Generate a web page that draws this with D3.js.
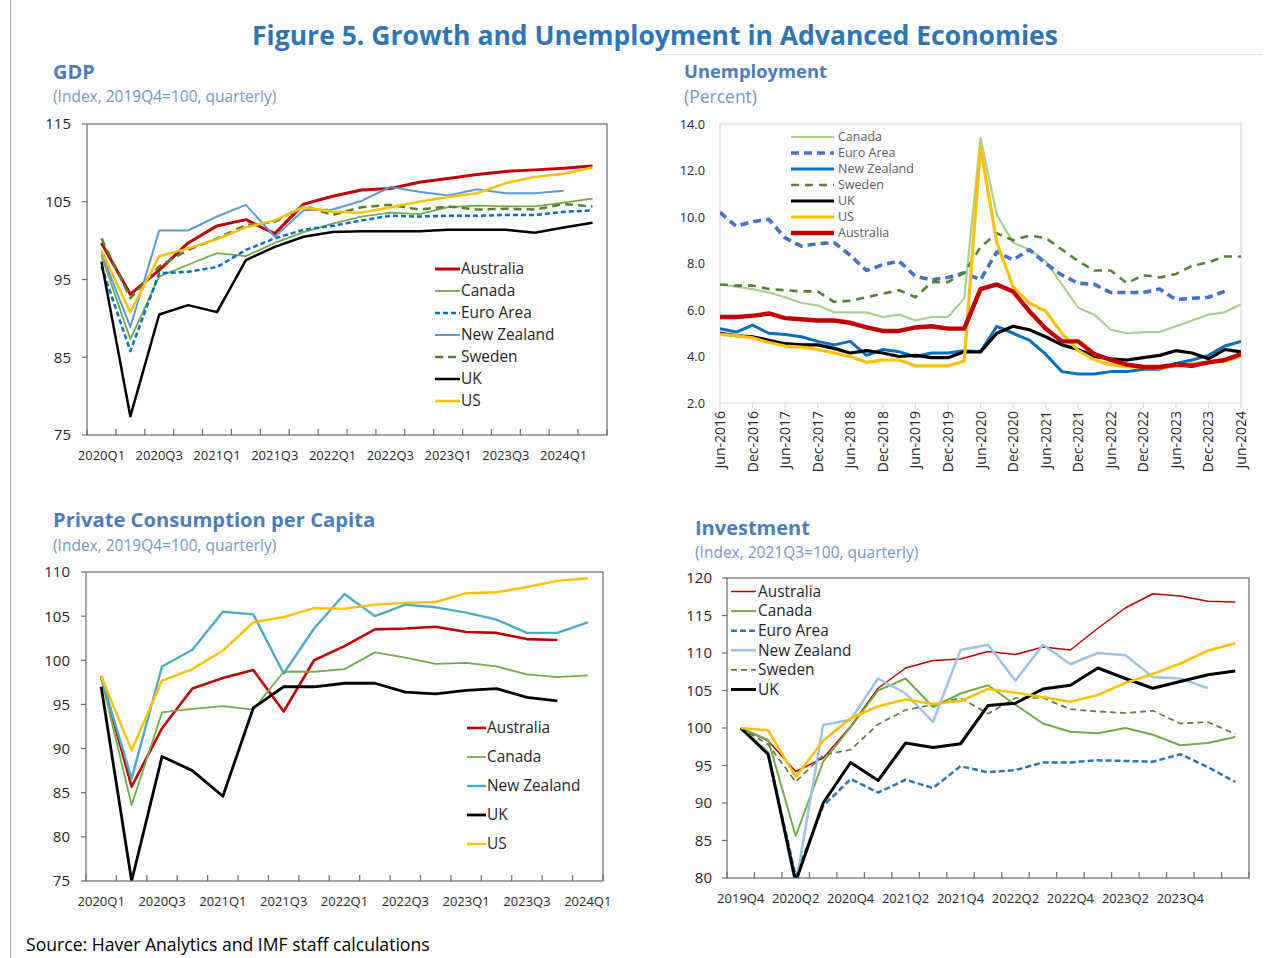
<!DOCTYPE html>
<html>
<head>
<meta charset="utf-8">
<script src="https://cdn.jsdelivr.net/npm/d3@7"></script>
<style>
  html, body { margin: 0; padding: 0; background: #ffffff; }
  svg { display: block; }
</style>
</head>
<body>
<svg id="fig" width="1287" height="958"></svg>
<script>
// ---------------- GDP (Index, 2019Q4=100) ----------------
const gdpQuarters = ["2020Q1","2020Q2","2020Q3","2020Q4","2021Q1","2021Q2","2021Q3","2021Q4","2022Q1",
  "2022Q2","2022Q3","2022Q4","2023Q1","2023Q2","2023Q3","2023Q4","2024Q1","2024Q2"];
const gdpTickLabels = ["2020Q1","2020Q3","2021Q1","2021Q3","2022Q1","2022Q3","2023Q1","2023Q3","2024Q1"];
const gdpYTicks = [75, 85, 95, 105, 115];
const gdpAustralia = [99.7, 93.1, 96.2, 99.7, 101.9, 102.7, 100.9, 104.7, 105.7, 106.5, 106.7, 107.5, 108.0, 108.5, 108.9, 109.1, 109.3, 109.6];
const gdpCanada    = [98.1, 87.3, 95.4, 96.9, 98.4, 98.0, 99.7, 101.1, 102.2, 103.1, 103.6, 103.4, 104.3, 104.5, 104.4, 104.4, 104.9, 105.4];
const gdpEuroArea  = [96.7, 85.8, 95.8, 96.0, 96.6, 98.8, 100.3, 101.4, 101.9, 102.6, 103.2, 103.1, 103.2, 103.2, 103.3, 103.3, 103.7, 103.9];
const gdpNewZealand= [98.4, 88.9, 101.3, 101.3, 103.1, 104.6, 100.5, 103.9, 104.0, 105.1, 106.9, 106.3, 105.8, 106.6, 106.1, 106.1, 106.4];
const gdpSweden    = [100.3, 92.6, 96.7, 98.8, 100.3, 102.0, 102.4, 104.5, 103.3, 104.3, 104.6, 104.0, 104.4, 104.0, 104.1, 104.0, 104.7, 104.4];
const gdpUK        = [97.3, 77.4, 90.5, 91.7, 90.8, 97.5, 99.2, 100.5, 101.1, 101.2, 101.2, 101.2, 101.4, 101.4, 101.4, 101.0, 101.7, 102.3];
const gdpUS        = [98.7, 90.8, 98.0, 99.0, 100.2, 101.7, 102.6, 104.3, 103.7, 103.6, 104.3, 105.0, 105.6, 106.1, 107.4, 108.2, 108.6, 109.4];

// ---------------- Unemployment (percent) ----------------
const unempPeriods = ["Jun-2016","Sep-2016","Dec-2016","Mar-2017","Jun-2017","Sep-2017","Dec-2017","Mar-2018",
  "Jun-2018","Sep-2018","Dec-2018","Mar-2019","Jun-2019","Sep-2019","Dec-2019","Mar-2020","Jun-2020",
  "Sep-2020","Dec-2020","Mar-2021","Jun-2021","Sep-2021","Dec-2021","Mar-2022","Jun-2022","Sep-2022",
  "Dec-2022","Mar-2023","Jun-2023","Sep-2023","Dec-2023","Mar-2024","Jun-2024"];
const unempTickLabels = ["Jun-2016","Dec-2016","Jun-2017","Dec-2017","Jun-2018","Dec-2018","Jun-2019","Dec-2019",
  "Jun-2020","Dec-2020","Jun-2021","Dec-2021","Jun-2022","Dec-2022","Jun-2023","Dec-2023","Jun-2024"];
const unempYTicks = [2, 4, 6, 8, 10, 12, 14];
const unempCanada    = [7.1, 7.0, 6.9, 6.75, 6.55, 6.3, 6.2, 5.9, 5.9, 5.9, 5.7, 5.8, 5.55, 5.7, 5.7, 6.5, 13.4, 10.1, 8.9, 8.6, 8.1, 7.1, 6.1, 5.8, 5.15, 5.0, 5.05, 5.05, 5.3, 5.55, 5.8, 5.9, 6.25];
const unempEuroArea  = [10.2, 9.6, 9.8, 9.9, 9.1, 8.75, 8.85, 8.9, 8.35, 7.7, 7.95, 8.1, 7.45, 7.3, 7.4, 7.6, 7.3, 8.5, 8.15, 8.6, 8.0, 7.5, 7.15, 7.1, 6.75, 6.75, 6.75, 6.9, 6.45, 6.5, 6.55, 6.8];
const unempNewZealand= [5.2, 5.05, 5.35, 5.0, 4.95, 4.85, 4.65, 4.5, 4.65, 4.05, 4.3, 4.2, 4.0, 4.15, 4.15, 4.25, 4.2, 5.3, 5.0, 4.7, 4.1, 3.35, 3.25, 3.25, 3.35, 3.35, 3.45, 3.45, 3.7, 3.85, 4.05, 4.45, 4.65];
const unempSweden    = [7.1, 7.05, 7.05, 6.9, 6.85, 6.8, 6.8, 6.35, 6.4, 6.55, 6.7, 6.85, 6.55, 7.2, 7.2, 7.6, 8.7, 9.3, 9.0, 9.2, 9.1, 8.6, 8.1, 7.7, 7.7, 7.15, 7.5, 7.4, 7.55, 7.9, 8.05, 8.3, 8.3];
const unempUK        = [5.0, 4.9, 4.85, 4.7, 4.55, 4.5, 4.5, 4.35, 4.15, 4.25, 4.15, 4.0, 4.05, 3.95, 3.95, 4.2, 4.2, 5.0, 5.3, 5.15, 4.85, 4.5, 4.3, 4.0, 3.9, 3.85, 3.95, 4.05, 4.25, 4.15, 3.9, 4.3, 4.2];
const unempUS        = [4.95, 4.9, 4.8, 4.6, 4.45, 4.4, 4.3, 4.15, 4.0, 3.75, 3.85, 3.85, 3.6, 3.6, 3.6, 3.8, 13.0, 8.9, 7.0, 6.3, 5.95, 5.0, 4.25, 3.85, 3.65, 3.55, 3.55, 3.5, 3.6, 3.7, 3.75, 3.8, 4.0];
const unempAustralia = [5.7, 5.7, 5.75, 5.85, 5.65, 5.6, 5.55, 5.55, 5.45, 5.25, 5.1, 5.1, 5.25, 5.3, 5.2, 5.2, 6.9, 7.1, 6.8, 5.95, 5.2, 4.65, 4.65, 4.1, 3.85, 3.65, 3.55, 3.55, 3.65, 3.6, 3.75, 3.85, 4.1];

// ---------------- Private consumption per capita (Index, 2019Q4=100) ----------------
const pcQuarters = ["2020Q1","2020Q2","2020Q3","2020Q4","2021Q1","2021Q2","2021Q3","2021Q4","2022Q1",
  "2022Q2","2022Q3","2022Q4","2023Q1","2023Q2","2023Q3","2023Q4","2024Q1"];
const pcTickLabels = ["2020Q1","2020Q3","2021Q1","2021Q3","2022Q1","2022Q3","2023Q1","2023Q3","2024Q1"];
const pcYTicks = [75, 80, 85, 90, 95, 100, 105, 110];
const pcAustralia  = [98.2, 85.7, 92.3, 96.8, 98.0, 98.9, 94.2, 100.0, 101.6, 103.5, 103.6, 103.8, 103.2, 103.1, 102.4, 102.3];
const pcCanada     = [98.0, 83.6, 94.1, 94.5, 94.8, 94.4, 98.7, 98.7, 99.0, 100.9, 100.3, 99.6, 99.7, 99.3, 98.4, 98.1, 98.3];
const pcNewZealand = [98.1, 86.6, 99.3, 101.2, 105.5, 105.2, 98.5, 103.6, 107.5, 105.0, 106.3, 106.0, 105.4, 104.6, 103.1, 103.1, 104.3];
const pcUK         = [97.0, 75.0, 89.1, 87.5, 84.6, 94.6, 97.0, 97.0, 97.4, 97.4, 96.4, 96.2, 96.6, 96.8, 95.8, 95.4];
const pcUS         = [98.2, 89.8, 97.7, 99.0, 101.1, 104.3, 104.9, 105.9, 105.85, 106.3, 106.5, 106.6, 107.6, 107.7, 108.3, 109.0, 109.3];

// ---------------- Investment (Index) ----------------
const invQuarters = ["2019Q4","2020Q1","2020Q2","2020Q3","2020Q4","2021Q1","2021Q2","2021Q3","2021Q4","2022Q1",
  "2022Q2","2022Q3","2022Q4","2023Q1","2023Q2","2023Q3","2023Q4","2024Q1","2024Q2"];
const invTickLabels = ["2019Q4","2020Q2","2020Q4","2021Q2","2021Q4","2022Q2","2022Q4","2023Q2","2023Q4"];
const invYTicks = [80, 85, 90, 95, 100, 105, 110, 115, 120];
const invAustralia  = [100, 98.3, 94.2, 96.0, 100.2, 105.3, 108.0, 109.0, 109.2, 110.2, 109.8, 110.8, 110.4, 113.3, 116.0, 117.9, 117.6, 116.9, 116.8];
const invCanada     = [100, 98.4, 85.6, 95.5, 100.1, 105.0, 106.6, 102.8, 104.6, 105.7, 103.1, 100.6, 99.5, 99.3, 100.0, 99.1, 97.7, 98.0, 98.8];
const invEuroArea   = [100, 96.5, 80.2, 89.6, 93.2, 91.4, 93.1, 92.0, 94.9, 94.1, 94.4, 95.4, 95.4, 95.7, 95.6, 95.5, 96.5, 94.8, 92.8];
const invNewZealand = [100, 96.8, 79.0, 100.4, 101.1, 106.6, 104.6, 100.8, 110.4, 111.1, 106.3, 111.1, 108.5, 110.0, 109.7, 106.8, 106.6, 105.3];
const invSweden     = [100, 97.8, 92.8, 96.4, 97.1, 100.5, 102.4, 103.1, 104.0, 101.9, 104.0, 104.0, 102.5, 102.2, 102.0, 102.3, 100.6, 100.8, 99.2];
const invUK         = [100, 96.5, 79.5, 90.0, 95.4, 93.0, 98.0, 97.4, 97.9, 103.0, 103.3, 105.2, 105.7, 108.0, 106.6, 105.3, 106.2, 107.1, 107.6];
const invUS         = [100, 99.7, 93.5, 98.3, 101.3, 102.9, 103.8, 103.2, 103.6, 105.2, 104.7, 104.1, 103.5, 104.4, 106.0, 107.2, 108.6, 110.3, 111.3];

// ---------------- styling ----------------
const FONT = "'Open Sans', 'Noto Sans', 'DejaVu Sans', sans-serif";
const TITLE_BLUE = "#2f75b5";
const PANEL_BLUE = "#4a7ebb";
const SUB_BLUE = "#7696c2";
const AXIS_DARK = "#6b6b6b";
const AXIS_LIGHT = "#d9d9d9";
const TEXT = "#262626";

const svg = d3.select("#fig").style("font-family", FONT);
const defs = svg.append("defs");

// Fit a text element to a given width by adjusting its font size
function fitWidth(sel, width) {
  const len = sel.node().getComputedTextLength();
  const fs = parseFloat(sel.attr("font-size"));
  sel.attr("font-size", (fs * width / len).toFixed(2));
}

function clip(id, x, y, w, h) {
  defs.append("clipPath").attr("id", id).append("rect")
    .attr("x", x).attr("y", y).attr("width", w).attr("height", h);
  return `url(#${id})`;
}

function panelHeading(x, yTitle, title, ySub, sub, titleSize, subSize) {
  svg.append("text").attr("x", x).attr("y", yTitle).attr("font-size", titleSize)
    .attr("font-weight", 700).attr("fill", PANEL_BLUE).text(title);
  svg.append("text").attr("x", x).attr("y", ySub).attr("font-size", subSize)
    .attr("fill", SUB_BLUE).text(sub);
}

function drawSeries(g, series, xPos, y) {
  series.forEach(s => {
    const pts = s.values.map((v, i) => ({ c: s.cats[i], v }));
    const line = d3.line().x(d => xPos(d.c)).y(d => y(d.v));
    g.append("path")
      .attr("d", line(pts))
      .attr("fill", "none")
      .attr("stroke", s.color)
      .attr("stroke-width", s.width)
      .attr("stroke-dasharray", s.dash || null)
      .attr("stroke-linejoin", "round");
  });
}

function drawLegend(items, x1, x2, tx, y0, dy, fontSize, color) {
  const g = svg.append("g");
  items.forEach((s, i) => {
    const yy = y0 + i * dy;
    g.append("line").attr("x1", x1).attr("x2", x2).attr("y1", yy).attr("y2", yy)
      .attr("stroke", s.color).attr("stroke-width", s.legendWidth || s.width)
      .attr("stroke-dasharray", s.legendDash || s.dash || null);
    g.append("text").attr("x", tx).attr("y", yy).attr("dy", "0.35em")
      .attr("font-size", fontSize).attr("fill", color).text(s.name);
  });
}

// Category (band) panel: frame, left ticks, inside bottom ticks, labels
function bandPanel(cfg) {
  const { left, right, top, bottom, cats, tickLabels, yDomain, yTicks, series, clipId,
          yLabelX, yLabelSize, xLabelY, xLabelSize } = cfg;
  const x = d3.scaleBand().domain(cats).range([left, right]);
  const y = d3.scaleLinear().domain(yDomain).range([bottom, top]);
  const xPos = c => x(c) + x.bandwidth() / 2;
  const g = svg.append("g");

  // series clipped to the plot area
  const lines = g.append("g").attr("clip-path", clip(clipId, left, top, right - left, bottom - top));
  drawSeries(lines, series, xPos, y);

  // frame
  g.append("rect").attr("x", left).attr("y", top).attr("width", right - left).attr("height", bottom - top)
    .attr("fill", "none").attr("stroke", AXIS_DARK).attr("stroke-width", 1.2);

  // category boundary ticks, pointing into the plot
  d3.range(cats.length + 1).forEach(i => {
    const xx = left + i * x.bandwidth();
    g.append("line").attr("x1", xx).attr("x2", xx).attr("y1", bottom).attr("y2", bottom - 6)
      .attr("stroke", AXIS_DARK).attr("stroke-width", 1.2);
  });

  // y ticks and labels
  yTicks.forEach(t => {
    g.append("line").attr("x1", left - 5).attr("x2", left).attr("y1", y(t)).attr("y2", y(t))
      .attr("stroke", AXIS_DARK).attr("stroke-width", 1.2);
    g.append("text").attr("x", yLabelX).attr("y", y(t)).attr("dy", "0.36em")
      .attr("text-anchor", "end").attr("font-size", yLabelSize).attr("fill", TEXT).text(t);
  });

  // x labels
  tickLabels.forEach(c => {
    g.append("text").attr("x", xPos(c)).attr("y", xLabelY).attr("text-anchor", "middle")
      .attr("font-size", xLabelSize).attr("fill", TEXT).text(c);
  });
  return { x, y };
}

// ---------------- figure frame and title ----------------
svg.append("line").attr("x1", 10.5).attr("x2", 10.5).attr("y1", 0).attr("y2", 958)
  .attr("stroke", "#a6a6a6").attr("stroke-width", 1);
svg.append("line").attr("x1", 655).attr("x2", 1262).attr("y1", 54.5).attr("y2", 54.5)
  .attr("stroke", "#e3e3e3").attr("stroke-width", 1);

const mainTitle = svg.append("text").attr("x", 655).attr("y", 45).attr("text-anchor", "middle")
  .attr("font-size", 25).attr("font-weight", 700).attr("fill", TITLE_BLUE)
  .text("Figure 5. Growth and Unemployment in Advanced Economies");
fitWidth(mainTitle, 806);

svg.append("text").attr("x", 26).attr("y", 951).attr("font-size", 17.6).attr("fill", "#000")
  .text("Source: Haver Analytics and IMF staff calculations");

// ---------------- GDP ----------------
panelHeading(53, 79, "GDP", 102, "(Index, 2019Q4=100, quarterly)", 20, 15.5);
const gdpSeries = [
  { name: "Australia",   values: gdpAustralia,  color: "#c00000", width: 3 },
  { name: "Canada",      values: gdpCanada,     color: "#70ad47", width: 1.8 },
  { name: "Euro Area",   values: gdpEuroArea,   color: "#0070c0", width: 2.5, dash: "5,3" },
  { name: "New Zealand", values: gdpNewZealand, color: "#5b9bd5", width: 2 },
  { name: "Sweden",      values: gdpSweden,     color: "#548235", width: 2.5, dash: "8,5" },
  { name: "UK",          values: gdpUK,         color: "#000000", width: 2.5 },
  { name: "US",          values: gdpUS,         color: "#ffc000", width: 2.5 }
].map(s => ({ ...s, cats: gdpQuarters }));
bandPanel({ left: 87, right: 607, top: 124, bottom: 435, cats: gdpQuarters, tickLabels: gdpTickLabels,
  yDomain: [75, 115], yTicks: gdpYTicks, series: gdpSeries, clipId: "clip-gdp",
  yLabelX: 71, yLabelSize: 15, xLabelY: 460, xLabelSize: 13 });
drawLegend(gdpSeries, 435, 460, 461, 269, 22, 15.4, TEXT);

// ---------------- Unemployment ----------------
panelHeading(684, 78, "Unemployment", 103, "(Percent)", 18.4, 17.5);
{
  const left = 720, right = 1241, top = 124, bottom = 403;
  const x = d3.scalePoint().domain(unempPeriods).range([left, right]);
  const y = d3.scaleLinear().domain([2, 14]).range([bottom, top]);
  const series = [
    { name: "Canada",      values: unempCanada,     color: "#a9d18e", width: 2.2 },
    { name: "Euro Area",   values: unempEuroArea,   color: "#4472c4", width: 3.6, dash: "8,5" },
    { name: "New Zealand", values: unempNewZealand, color: "#0070c0", width: 3 },
    { name: "Sweden",      values: unempSweden,     color: "#548235", width: 2.6, dash: "8,6" },
    { name: "UK",          values: unempUK,         color: "#000000", width: 3.2 },
    { name: "US",          values: unempUS,         color: "#ffc000", width: 3.2 },
    { name: "Australia",   values: unempAustralia,  color: "#c00000", width: 4.4 }
  ].map(s => ({ ...s, cats: unempPeriods }));
  const g = svg.append("g");
  g.append("rect").attr("x", left).attr("y", top).attr("width", right - left).attr("height", bottom - top)
    .attr("fill", "none").attr("stroke", AXIS_LIGHT).attr("stroke-width", 1.2);
  const lines = g.append("g").attr("clip-path", clip("clip-unemp", left, top, right - left, bottom - top));
  drawSeries(lines, series, x, y);

  unempYTicks.forEach(t => {
    g.append("text").attr("x", 705).attr("y", y(t)).attr("dy", "0.36em").attr("text-anchor", "end")
      .attr("font-size", 12.8).attr("fill", TEXT).text(d3.format(".1f")(t));
  });
  unempTickLabels.forEach(c => {
    g.append("line").attr("x1", x(c)).attr("x2", x(c)).attr("y1", bottom).attr("y2", bottom + 5)
      .attr("stroke", AXIS_LIGHT).attr("stroke-width", 1.2);
    g.append("text").attr("transform", `translate(${x(c) + 5},${bottom + 8}) rotate(-90)`)
      .attr("text-anchor", "end").attr("font-size", 14).attr("fill", TEXT).text(c);
  });
  drawLegend(series, 791, 834, 838, 137, 16, 12.5, "#595959");
}

// ---------------- Private consumption per capita ----------------
panelHeading(53, 527, "Private Consumption per Capita", 551, "(Index, 2019Q4=100, quarterly)", 20.2, 15.5);
const pcSeries = [
  { name: "Australia",   values: pcAustralia,  color: "#c00000", width: 2.6 },
  { name: "Canada",      values: pcCanada,     color: "#70ad47", width: 1.8 },
  { name: "New Zealand", values: pcNewZealand, color: "#4bacc6", width: 2.4 },
  { name: "UK",          values: pcUK,         color: "#000000", width: 2.8 },
  { name: "US",          values: pcUS,         color: "#ffc000", width: 2.4 }
].map(s => ({ ...s, cats: pcQuarters }));
bandPanel({ left: 86, right: 603, top: 572, bottom: 881, cats: pcQuarters, tickLabels: pcTickLabels,
  yDomain: [75, 110], yTicks: pcYTicks, series: pcSeries, clipId: "clip-pc",
  yLabelX: 70, yLabelSize: 15, xLabelY: 906, xLabelSize: 13 });
drawLegend(pcSeries, 467, 486, 487, 728, 29, 15.4, TEXT);

// ---------------- Investment ----------------
panelHeading(695, 535, "Investment", 558, "(Index, 2021Q3=100, quarterly)", 20, 15.5);
const invSeries = [
  { name: "Australia",   values: invAustralia,  color: "#c00000", width: 1.5 },
  { name: "Canada",      values: invCanada,     color: "#70ad47", width: 2 },
  { name: "Euro Area",   values: invEuroArea,   color: "#2e75b6", width: 2.5, dash: "6,3" },
  { name: "New Zealand", values: invNewZealand, color: "#9dc3e6", width: 2.5 },
  { name: "Sweden",      values: invSweden,     color: "#548235", width: 1.7, dash: "6,4" },
  { name: "UK",          values: invUK,         color: "#000000", width: 3 },
  { name: "US",          values: invUS,         color: "#ffc000", width: 2.5 }
].map(s => ({ ...s, cats: invQuarters }));
bandPanel({ left: 727, right: 1249, top: 578, bottom: 878, cats: invQuarters, tickLabels: invTickLabels,
  yDomain: [80, 120], yTicks: invYTicks, series: invSeries, clipId: "clip-inv",
  yLabelX: 712, yLabelSize: 15, xLabelY: 903, xLabelSize: 13 });
drawLegend(invSeries.filter(s => s.name !== "US"), 731, 756, 758, 591.5, 19.6, 15.4, TEXT);
</script>
</body>
</html>
